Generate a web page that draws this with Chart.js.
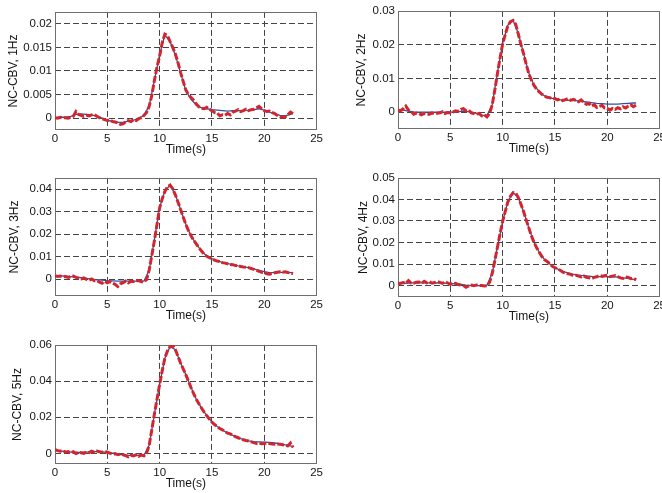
<!DOCTYPE html>
<html lang="en">
<head>
<meta charset="UTF-8">
<title>NC-CBV responses</title>
<script src="https://cdn.jsdelivr.net/npm/chart.js"></script>
<style>
  html, body { margin: 0; padding: 0; background: #fff; overflow: hidden; width: 662px; height: 493px; }
  .panel { position: absolute; }
</style>
</head>
<body>
<canvas id="c1" class="panel"></canvas>
<canvas id="c2" class="panel"></canvas>
<canvas id="c3" class="panel"></canvas>
<canvas id="c4" class="panel"></canvas>
<canvas id="c5" class="panel"></canvas>
<script>
// time axis (s): measured trace every 0.25 s, fitted curve every 0.5 s
const tRed = [0,0.25,0.5,0.75,1,1.25,1.5,1.75,2,2.25,2.5,2.75,3,3.25,3.5,3.75,4,4.25,4.5,4.75,
  5,5.25,5.5,5.75,6,6.25,6.5,6.75,7,7.25,7.5,7.75,8,8.25,8.5,8.75,9,9.25,9.5,9.75,
  10,10.25,10.5,10.75,11,11.25,11.5,11.75,12,12.25,12.5,12.75,13,13.25,13.5,13.75,14,14.25,14.5,14.75,
  15,15.25,15.5,15.75,16,16.25,16.5,16.75,17,17.25,17.5,17.75,18,18.25,18.5,18.75,19,19.25,19.5,19.75,
  20,20.25,20.5,20.75,21,21.25,21.5,21.75,22,22.25,22.5,22.75];
const tBlue = [0,0.5,1,1.5,2,2.5,3,3.5,4,4.5,5,5.5,6,6.5,7,7.5,8,8.5,9,9.5,10,10.5,11,11.5,
  12,12.5,13,13.5,14,14.5,15,15.5,16,16.5,17,17.5,18,18.5,19,19.5,20,20.5,21,21.5,22,22.5,22.75];
const xTicks = [0, 5, 10, 15, 20, 25];

// 1 Hz
const red1 = [0.0001,0.0000,0.0002,0.0001,0.0001,0.0000,0.0002,0.0004,0.0014,0.0008,0.0006,0.0004,0.0006,0.0005,0.0007,0.0008,
  0.0004,0.0001,-0.0001,-0.0003,-0.0005,-0.0004,-0.0007,-0.0008,-0.0010,-0.0013,-0.0012,-0.0008,-0.0005,-0.0007,-0.0003,-0.0005,
  -0.0001,0.0001,0.0006,0.0012,0.0025,0.0048,0.0080,0.0108,0.0132,0.0160,0.0178,0.0175,0.0162,0.0150,0.0136,0.0118,
  0.0097,0.0078,0.0060,0.0050,0.0044,0.0038,0.0030,0.0024,0.0021,0.0020,0.0023,0.0019,0.0016,0.0012,0.0011,0.0005,
  0.0007,0.0006,0.0010,0.0007,0.0013,0.0015,0.0018,0.0014,0.0016,0.0019,0.0016,0.0018,0.0019,0.0022,0.0025,0.0020,
  0.0016,0.0014,0.0015,0.0012,0.0010,0.0006,0.0003,0.0002,0.0003,0.0007,0.0013,0.0010];
const blue1 = [0.0001,0.0002,0.0002,0.0004,0.0008,0.0009,0.0008,0.0007,0.0004,0.0000,-0.0004,-0.0007,-0.0009,-0.0009,-0.0006,-0.0004,
  -0.0001,0.0006,0.0026,0.0080,0.0135,0.0176,0.0162,0.0134,0.0096,0.0058,0.0040,0.0028,0.0022,0.0020,0.0018,0.0017,
  0.0016,0.0015,0.0016,0.0016,0.0016,0.0017,0.0018,0.0020,0.0017,0.0013,0.0009,0.0006,0.0005,0.0008,0.0010];
const yTicks1 = [0, 0.005, 0.01, 0.015, 0.02];

// 2 Hz
const red2 = [0.0006,0.0004,0.0010,0.0018,0.0006,0.0002,-0.0006,-0.0003,-0.0004,-0.0008,-0.0004,-0.0006,-0.0006,-0.0002,-0.0005,-0.0003,
  -0.0002,0.0001,-0.0004,-0.0001,-0.0002,0.0000,0.0004,0.0002,0.0008,0.0010,0.0004,0.0006,-0.0002,-0.0004,-0.0006,-0.0004,
  -0.0011,-0.0008,-0.0014,-0.0004,0.0021,0.0065,0.0114,0.0160,0.0202,0.0230,0.0256,0.0268,0.0272,0.0260,0.0231,0.0200,
  0.0173,0.0142,0.0114,0.0095,0.0079,0.0068,0.0060,0.0053,0.0048,0.0044,0.0043,0.0039,0.0040,0.0036,0.0039,0.0034,
  0.0037,0.0040,0.0035,0.0038,0.0035,0.0031,0.0036,0.0029,0.0023,0.0026,0.0018,0.0022,0.0014,0.0017,0.0020,0.0012,
  0.0011,0.0006,0.0011,0.0008,0.0013,0.0010,0.0016,0.0012,0.0018,0.0022,0.0016,0.0021];
const blue2 = [0.0006,0.0006,0.0003,0.0001,0.0000,0.0000,0.0000,0.0000,0.0000,0.0000,0.0000,0.0001,0.0002,0.0002,0.0000,-0.0004,
  -0.0009,-0.0010,0.0022,0.0116,0.0204,0.0258,0.0272,0.0233,0.0174,0.0116,0.0080,0.0060,0.0048,0.0042,0.0039,0.0037,
  0.0036,0.0035,0.0034,0.0032,0.0030,0.0028,0.0026,0.0025,0.0024,0.0024,0.0024,0.0025,0.0026,0.0027,0.0027];
const yTicks2 = [0, 0.01, 0.02, 0.03];

// 3 Hz
const red3 = [0.0016,0.0013,0.0015,0.0011,0.0012,0.0008,0.0012,0.0014,0.0009,0.0005,0.0002,0.0006,0.0000,-0.0004,0.0002,-0.0006,
  -0.0006,-0.0012,-0.0017,-0.0008,-0.0015,-0.0010,-0.0017,-0.0022,-0.0032,-0.0020,-0.0015,-0.0008,-0.0015,-0.0009,-0.0010,-0.0005,
  -0.0006,-0.0011,-0.0010,-0.0001,0.0041,0.0105,0.0172,0.0245,0.0317,0.0358,0.0390,0.0410,0.0418,0.0402,0.0375,0.0343,
  0.0310,0.0276,0.0244,0.0216,0.0193,0.0173,0.0157,0.0140,0.0126,0.0112,0.0102,0.0096,0.0092,0.0085,0.0081,0.0079,
  0.0074,0.0072,0.0069,0.0066,0.0065,0.0061,0.0060,0.0057,0.0055,0.0054,0.0052,0.0048,0.0044,0.0040,0.0036,0.0031,
  0.0029,0.0025,0.0023,0.0026,0.0029,0.0031,0.0033,0.0031,0.0033,0.0030,0.0028,0.0026];
const blue3 = [0.0016,0.0015,0.0014,0.0012,0.0010,0.0007,0.0004,0.0001,-0.0002,-0.0004,-0.0006,-0.0007,-0.0008,-0.0008,-0.0008,-0.0008,
  -0.0008,-0.0008,0.0040,0.0175,0.0320,0.0392,0.0418,0.0376,0.0310,0.0244,0.0192,0.0156,0.0126,0.0104,0.0092,0.0082,
  0.0075,0.0070,0.0065,0.0060,0.0056,0.0052,0.0046,0.0040,0.0034,0.0030,0.0030,0.0031,0.0031,0.0030,0.0030];
const yTicks3 = [0, 0.01, 0.02, 0.03, 0.04];

// 4 Hz
const red4 = [0.0008,0.0011,0.0014,0.0010,0.0023,0.0012,0.0011,0.0016,0.0017,0.0010,0.0020,0.0013,0.0018,0.0011,0.0014,0.0019,
  0.0015,0.0010,0.0018,0.0012,0.0006,0.0009,0.0011,0.0005,0.0003,0.0000,-0.0008,-0.0002,0.0002,-0.0001,0.0003,0.0001,
  0.0000,-0.0002,0.0000,0.0015,0.0056,0.0115,0.0177,0.0240,0.0298,0.0345,0.0389,0.0415,0.0432,0.0430,0.0408,0.0378,
  0.0344,0.0305,0.0268,0.0232,0.0200,0.0176,0.0155,0.0135,0.0120,0.0112,0.0102,0.0090,0.0083,0.0078,0.0071,0.0062,
  0.0059,0.0055,0.0052,0.0046,0.0048,0.0044,0.0040,0.0045,0.0038,0.0036,0.0033,0.0038,0.0041,0.0048,0.0043,0.0046,
  0.0048,0.0041,0.0044,0.0047,0.0041,0.0036,0.0033,0.0040,0.0038,0.0032,0.0035,0.0026];
const blue4 = [0.0008,0.0010,0.0012,0.0013,0.0013,0.0013,0.0013,0.0013,0.0012,0.0011,0.0010,0.0008,0.0005,0.0002,0.0000,0.0000,
  0.0000,0.0001,0.0056,0.0178,0.0298,0.0390,0.0432,0.0408,0.0344,0.0268,0.0200,0.0155,0.0121,0.0100,0.0084,0.0071,
  0.0062,0.0055,0.0050,0.0047,0.0045,0.0043,0.0042,0.0042,0.0042,0.0041,0.0039,0.0036,0.0033,0.0029,0.0026];
const yTicks4 = [0, 0.01, 0.02, 0.03, 0.04, 0.05];

// 5 Hz
const red5 = [0.0022,0.0016,0.0013,0.0017,0.0007,0.0011,0.0004,0.0010,0.0000,0.0006,0.0004,0.0001,0.0009,0.0005,0.0013,0.0008,
  0.0013,0.0010,0.0007,0.0012,0.0007,0.0002,-0.0004,-0.0001,-0.0007,-0.0003,-0.0007,-0.0012,-0.0018,-0.0010,-0.0013,-0.0006,
  -0.0015,-0.0009,-0.0013,0.0002,0.0045,0.0130,0.0218,0.0300,0.0382,0.0458,0.0527,0.0568,0.0591,0.0595,0.0573,0.0538,
  0.0500,0.0468,0.0436,0.0400,0.0364,0.0331,0.0300,0.0275,0.0251,0.0229,0.0209,0.0190,0.0173,0.0160,0.0149,0.0138,
  0.0131,0.0121,0.0113,0.0108,0.0100,0.0093,0.0087,0.0081,0.0076,0.0072,0.0069,0.0064,0.0060,0.0056,0.0058,0.0054,
  0.0055,0.0057,0.0055,0.0052,0.0051,0.0053,0.0051,0.0048,0.0045,0.0042,0.0058,0.0033];
const blue5 = [0.0020,0.0015,0.0011,0.0008,0.0006,0.0006,0.0008,0.0010,0.0010,0.0009,0.0006,0.0002,-0.0003,-0.0007,-0.0010,-0.0011,
  -0.0011,-0.0010,0.0045,0.0218,0.0382,0.0527,0.0591,0.0573,0.0500,0.0436,0.0364,0.0300,0.0251,0.0209,0.0174,0.0149,
  0.0130,0.0113,0.0100,0.0088,0.0077,0.0070,0.0065,0.0064,0.0063,0.0062,0.0058,0.0053,0.0048,0.0042,0.0038];
const yTicks5 = [0, 0.02, 0.04, 0.06];

Chart.defaults.font.family = '"Liberation Sans", Arial, sans-serif';
Chart.defaults.font.size = 11.5;
Chart.defaults.color = '#151515';

const Y_W = 55, X_H = 30, PAD_T = 8, PAD_R = 8;

// plot box outline on all four sides
const frame = {
  id: 'frame',
  beforeDatasetsDraw(chart) {
    const { ctx, chartArea: a } = chart;
    ctx.save();
    ctx.strokeStyle = '#6e6e6e';
    ctx.lineWidth = 1;
    ctx.setLineDash([]);
    ctx.strokeRect(Math.round(a.left) + 0.5, Math.round(a.top) + 0.5, Math.round(a.right - a.left) - 1, Math.round(a.bottom - a.top) - 1);
    ctx.restore();
  }
};

function makePanel(id, box, red, blue, yMin, yMax, yTicks, label, titlePad) {
  const [left, top, w, h] = box;
  const canvas = document.getElementById(id);
  canvas.width = Y_W + w + PAD_R;
  canvas.height = PAD_T + h + X_H;
  canvas.style.left = (left - Y_W) + 'px';
  canvas.style.top = (top - PAD_T) + 'px';

  new Chart(canvas, {
    type: 'line',
    data: {
      datasets: [
        { label: 'measured', data: tRed.map((t, i) => ({ x: t, y: red[i] })),
          borderColor: '#d3252c', borderWidth: 3, borderDash: [7, 2], pointRadius: 0, tension: 0 },
        { label: 'fit', data: tBlue.map((t, i) => ({ x: t, y: blue[i] })),
          borderColor: '#2b52a6', borderWidth: 1.3, pointRadius: 0, tension: 0 }
      ]
    },
    options: {
      responsive: false,
      animation: false,
      layout: { padding: { top: PAD_T, right: PAD_R, left: 0, bottom: 0 } },
      plugins: { legend: { display: false }, tooltip: { enabled: false } },
      scales: {
        x: {
          type: 'linear', min: 0, max: 25,
          afterBuildTicks: s => { s.ticks = xTicks.map(v => ({ value: v })); },
          afterFit: s => { s.height = X_H; },
          ticks: { padding: 2, maxRotation: 0, callback: v => String(v) },
          grid: {
            drawTicks: false,
            color: c => (c.tick && (c.tick.value === 0 || c.tick.value === 25)) ? 'rgba(0,0,0,0)' : '#454545',
            lineWidth: 1
          },
          border: { display: false, dash: [6, 3] },
          title: { display: true, text: 'Time(s)', padding: { top: 0, bottom: 3 }, font: { size: 12 } }
        },
        y: {
          type: 'linear', min: yMin, max: yMax, bounds: 'data',
          afterBuildTicks: s => { s.ticks = yTicks.map(v => ({ value: v })); },
          afterFit: s => { s.width = Y_W; },
          ticks: { padding: 3, callback: v => String(v) },
          grid: {
            drawTicks: false,
            color: c => (c.tick && (c.tick.value === yMin || c.tick.value === yMax)) ? 'rgba(0,0,0,0)' : '#454545',
            lineWidth: 1
          },
          border: { display: false, dash: [6, 3] },
          title: { display: true, text: label, padding: { top: titlePad, bottom: 0 }, font: { size: 12 } }
        }
      }
    },
    plugins: [frame]
  });
}

makePanel('c1', [55, 10, 262, 120], red1, blue1, -0.0025, 0.0225, yTicks1, 'NC-CBV, 1Hz', 6);
makePanel('c2', [398, 9, 262, 120], red2, blue2, -0.005, 0.03, yTicks2, 'NC-CBV, 2Hz', 11);
makePanel('c3', [55, 176, 262, 120], red3, blue3, -0.0074, 0.045, yTicks3, 'NC-CBV, 3Hz', 7);
makePanel('c4', [398, 176, 262, 121], red4, blue4, -0.0053, 0.05, yTicks4, 'NC-CBV, 4Hz', 13);
makePanel('c5', [55, 343, 262, 121], red5, blue5, -0.0058, 0.06, yTicks5, 'NC-CBV, 5Hz', 10);
</script>
</body>
</html>
